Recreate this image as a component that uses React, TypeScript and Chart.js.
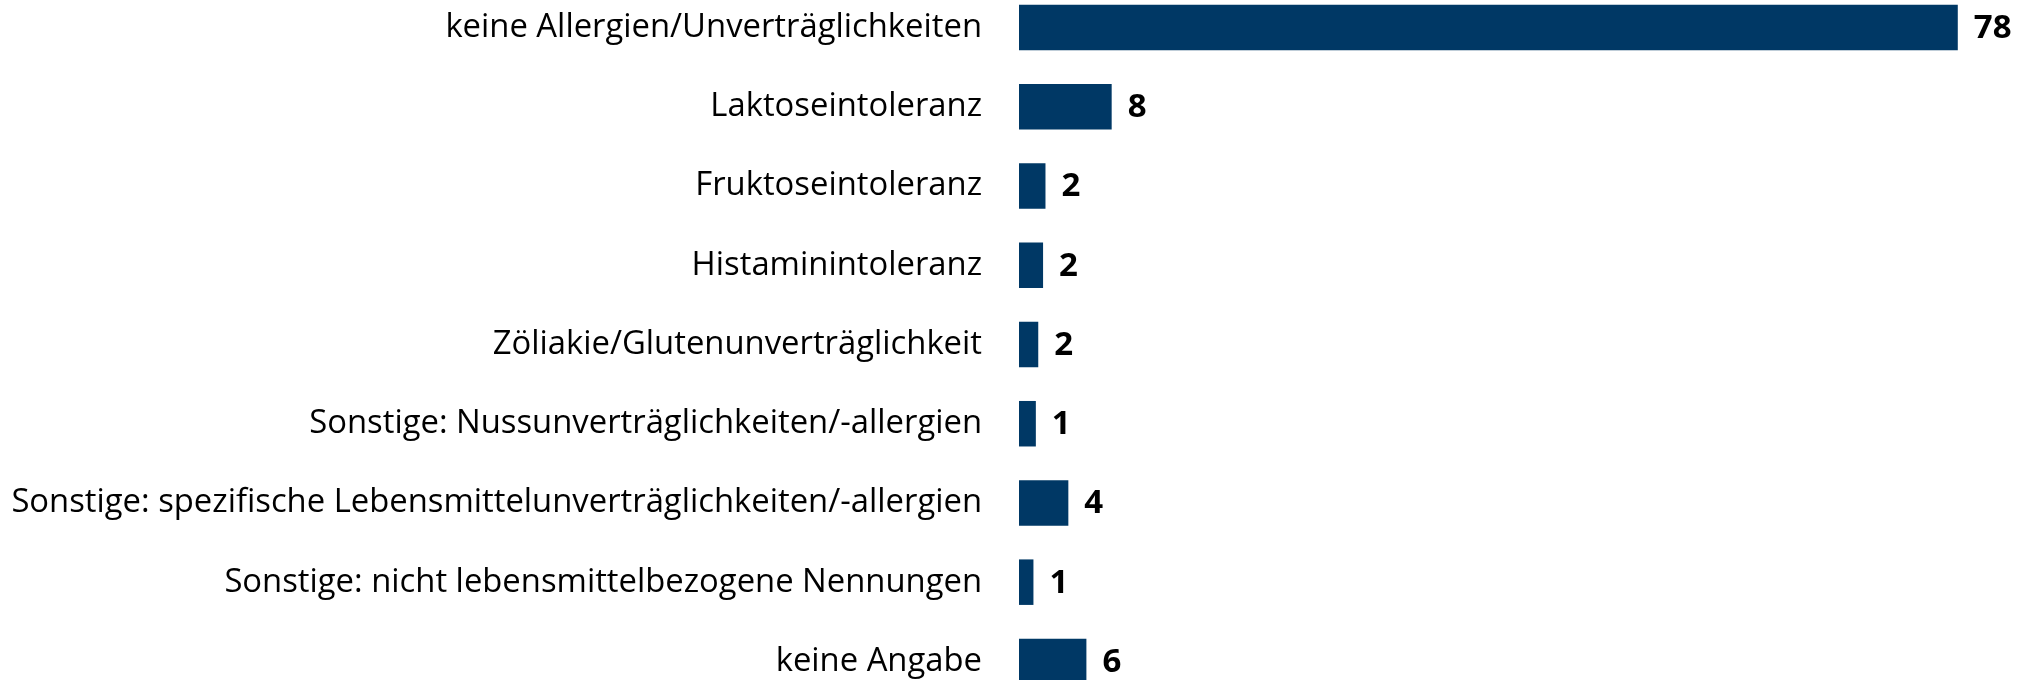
import React, { useEffect, useRef } from "react";
import { Chart, registerables } from "chart.js";

Chart.register(...registerables);

const categories = [
  "keine Allergien/Unverträglichkeiten",
  "Laktoseintoleranz",
  "Fruktoseintoleranz",
  "Histaminintoleranz",
  "Zöliakie/Glutenunverträglichkeit",
  "Sonstige: Nussunverträglichkeiten/-allergien",
  "Sonstige: spezifische Lebensmittelunverträglichkeiten/-allergien",
  "Sonstige: nicht lebensmittelbezogene Nennungen",
  "keine Angabe",
];

const values = [78.0, 7.7, 2.2, 2.0, 1.6, 1.4, 4.1, 1.2, 5.6];

const valueLabels = ["78", "8", "2", "2", "2", "1", "4", "1", "6"];

const BAR_COLOR = "#003865";

const valueLabelPlugin = {
  id: "valueLabels",
  afterDatasetsDraw(chart: any) {
    const ctx = chart.ctx;
    const meta = chart.getDatasetMeta(0);
    ctx.save();
    ctx.font = "bold 33px 'Open Sans'";
    ctx.fillStyle = "#000000";
    ctx.textAlign = "left";
    ctx.textBaseline = "middle";
    meta.data.forEach((bar: any, i: number) => {
      ctx.fillText(valueLabels[i], bar.x + 16, bar.y + 1);
    });
    ctx.restore();
  },
};

export default function App() {
  const canvasRef = useRef<HTMLCanvasElement | null>(null);

  useEffect(() => {
    if (!canvasRef.current) return;
    const chart = new Chart(canvasRef.current, {
      type: "bar",
      data: {
        labels: categories,
        datasets: [
          {
            data: values,
            backgroundColor: BAR_COLOR,
            borderWidth: 0,
            barPercentage: 0.5745,
            categoryPercentage: 1,
          },
        ],
      },
      options: {
        indexAxis: "y",
        animation: false,
        responsive: true,
        maintainAspectRatio: false,
        layout: { padding: 0 },
        plugins: {
          legend: { display: false },
          tooltip: { enabled: false },
        },
        scales: {
          x: {
            display: false,
            min: 0,
            max: 84,
          },
          y: {
            grid: { display: false },
            border: { display: false },
            ticks: {
              padding: 29,
              color: "#000000",
              font: { family: "'Open Sans'", size: 32.8 },
            },
            afterFit(scale: any) {
              scale.width = 1019;
              scale.paddingTop = 0;
              scale.paddingBottom = 0;
            },
          },
        },
      },
      plugins: [valueLabelPlugin],
    });
    return () => chart.destroy();
  }, []);

  return (
    <div
      style={{
        position: "fixed",
        left: 0,
        top: 0,
        width: 2030,
        height: 680,
        overflow: "hidden",
        background: "#ffffff",
      }}
    >
      <div
        style={{
          position: "absolute",
          left: 0,
          top: -12,
          width: 2030,
          height: 713,
        }}
      >
        <canvas ref={canvasRef} />
      </div>
    </div>
  );
}
